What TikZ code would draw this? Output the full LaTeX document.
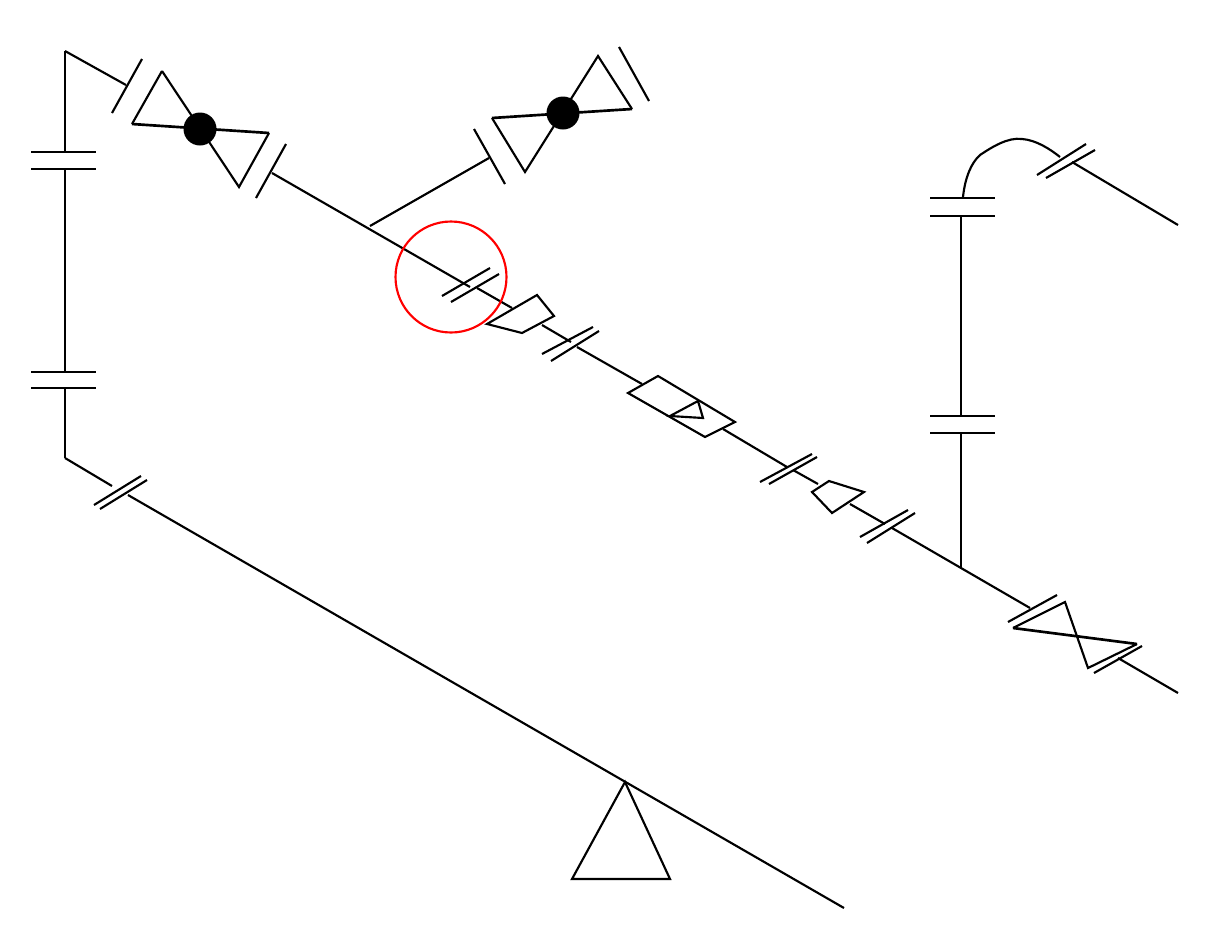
\documentclass[tikz,border=0pt]{standalone}
\tikzset{
 pipe/.style={draw=black,line width=2pt,line join=miter},
 thin pipe/.style={draw=black,line width=1.6pt,line join=miter},
 hub/.style={fill=black,draw=none},
 mark ring/.style={draw=red,line width=1.6pt}
}
\begin{document}
\begin{tikzpicture}[x=0.75pt,y=-0.75pt]
\useasboundingbox (0,0) rectangle (1206,950);
% left riser
\draw[pipe] (65,152) -- (65,51);
\draw[thin pipe] (65,51) -- (126,85);
\draw[pipe] (31,152) -- (96,152) (31,169) -- (96,169);
\draw[pipe] (65,169) -- (65,372);
\draw[pipe] (31,372) -- (96,372) (31,388) -- (96,388);
\draw[pipe] (65,388) -- (65,458);
\draw[thin pipe] (65,458) -- (112,486);
% lower pipe
\draw[thin pipe] (94,505) -- (141,476) (100,509) -- (147,480);
\draw[thin pipe] (128,495) -- (844,908);
\draw[thin pipe] (625,782) -- (572,879) -- (670,879) -- cycle;
% first valve
\draw[thin pipe] (142,59) -- (112,113);
\draw[thin pipe] (162,71) -- (132,124);
\draw[pipe] (132,124) -- (269,133);
\draw[thin pipe] (269,133) -- (239,187) -- (162,71);
\fill[hub] (200,129) circle (16.5);
\draw[thin pipe] (286,144) -- (256,198);
% branch valve
\draw[thin pipe] (474,129) -- (505,184);
\draw[thin pipe] (370,226) -- (489,158);
\draw[pipe] (492,118) -- (632,109);
\draw[thin pipe] (632,109) -- (598,56) -- (525,172) -- (492,118);
\fill[hub] (563,113) circle (16.5);
\draw[thin pipe] (619,47) -- (649,101);
% main pipe
\draw[thin pipe] (272,173) -- (470,287);
\draw[thin pipe] (490,268) -- (442,296) (499,274) -- (451,302);
\draw[thin pipe] (477,288) -- (512,308);
\draw[thin pipe] (487,324) -- (537,295) -- (554,316) -- (522,333) -- cycle;
\draw[thin pipe] (542,325) -- (571,342);
\draw[thin pipe] (593,327) -- (542,354) (599,331) -- (551,361);
\draw[thin pipe] (577,347) -- (642,384);
\draw[thin pipe] (658,376) -- (628,393) -- (705,437) -- (735,422) -- cycle;
\draw[thin pipe] (698,401) -- (670,416) -- (703,418) -- cycle;
\draw[thin pipe] (723,429) -- (787,467);
\draw[thin pipe] (812,454) -- (760,482) (817,457) -- (769,484);
\draw[thin pipe] (793,470) -- (818,484);
\draw[thin pipe] (812,492) -- (829,481) -- (864,492) -- (832,513) -- cycle;
\draw[thin pipe] (850,504) -- (885,524);
\draw[thin pipe] (908,510) -- (860,537) (915,513) -- (867,543);
\draw[thin pipe] (892,528) -- (1030,608);
% right riser
\draw[pipe] (961,568) -- (961,433);
\draw[pipe] (930,433) -- (995,433) (930,416) -- (995,416);
\draw[pipe] (961,416) -- (961,216);
\draw[pipe] (930,216) -- (995,216) (930,198) -- (995,198);
\draw[thin pipe] (963,197) .. controls (965,178) and (971,163) .. (980,155) .. controls (992,147) and (1008,137) .. (1022,139) .. controls (1036,140) and (1050,149) .. (1060,157);
\draw[thin pipe] (1086,144) -- (1037,175) (1095,150) -- (1046,178);
\draw[thin pipe] (1072,162) -- (1178,225);
% lower right valve
\draw[thin pipe] (1057,595) -- (1008,622);
\draw[pipe] (1013,628) -- (1137,644);
\draw[thin pipe] (1013,628) -- (1065,602) -- (1088,668) -- (1137,644);
\draw[thin pipe] (1142,646) -- (1094,673);
\draw[thin pipe] (1118,658) -- (1178,693);
% red mark
\draw[mark ring] (451,277) circle (55.5);
\end{tikzpicture}
\end{document}
